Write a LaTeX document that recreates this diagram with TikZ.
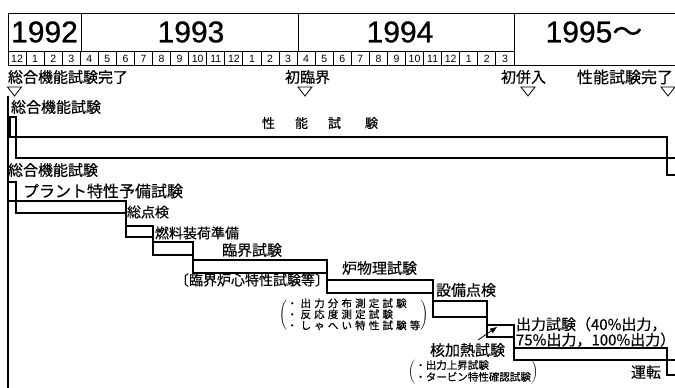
\documentclass[tikz,border=0pt]{standalone}
\usepackage{fontspec}
\usepackage{graphicx}
\setmainfont{Liberation Sans}
\newfontfamily\yrf[FakeBold=0.8]{Liberation Sans}
\newfontfamily\jpf[FakeBold=0.3]{Noto Sans CJK JP}
\newfontfamily\jpls[LetterSpace=30,FakeBold=0.3]{Noto Sans CJK JP}
\usetikzlibrary{arrows.meta}
\begin{document}
\begin{tikzpicture}[x=1pt,y=-1pt,
  every node/.style={inner sep=0pt, outer sep=0pt},
  hdr/.style={line width=0.9pt},
  year/.style={font=\yrf\fontsize{30}{30}\selectfont},
  mon/.style={font=\fontsize{10.5}{10.5}\selectfont},
  jl/.style={font=\jpf\fontsize{15}{15}\selectfont, anchor=west},
  jm/.style={font=\jpf\fontsize{14}{14}\selectfont, anchor=west},
  tri/.style={line width=0.8pt},
  gbar/.style={draw, line width=1.3pt, anchor=north west},
  conn/.style={line width=1.3pt},
  arr/.style={line width=0.8pt, -{Triangle[length=7pt,width=5pt]}}
]
\useasboundingbox (0,0) rectangle (675,388);
\fill[white] (0,0) rectangle (675,388);
% ---------- header ----------
\draw[hdr] (8,13) -- (680,13);
\draw[hdr] (8,65) -- (680,65);
\draw[hdr] (8,51) -- (514,51);
\draw[hdr] (8,13) -- (8,65);
\draw[hdr] (81,13) -- (81,51);
\draw[hdr] (298,13) -- (298,51);
\draw[hdr] (514,13) -- (514,65);
\foreach \i in {1,...,27} \draw[hdr] ({8+18.07*\i},51) -- ({8+18.07*\i},65);
\node[year] (y92) at (44.5,32) {1992};
\node[year] (y93) at (191,32) {1993};
\node[year] (y94) at (400,32) {1994};
\node[year] (y95) at (594,32) {1995\jpf ～};
\foreach \m [count=\i from 0] in {12,1,2,3,4,5,6,7,8,9,10,11,12,1,2,3,4,5,6,7,8,9,10,11,12,1,2,3}
  \node[mon] (m\i) at ({8+18.07*(\i+0.5)},58.5) {\m};
% ---------- milestones ----------
\node[jl] (ms1) at (8,77) {総合機能試験完了};
\node[jl] (ms2) at (285,77) {初臨界};
\node[jl] (ms3) at (501,77) {初併入};
\node[jl, font=\jpf\fontsize{16}{16}\selectfont] (ms4) at (577,77) {性能試験完了};
\draw[tri] (7.5,87) -- (21.5,87) -- (14.5,96) -- cycle;
\draw[tri] (298,87) -- (312,87) -- (305,96) -- cycle;
\draw[tri] (521,87) -- (535,87) -- (528,96) -- cycle;
\draw[tri] (661,87) -- (675,87) -- (668,96) -- cycle;
\draw[conn] (8,96) -- (8,390);
% ---------- section 1 ----------
\node[jl] (s1a) at (11,107) {総合機能試験};
\node[font=\jpf\fontsize{13}{13}\selectfont, anchor=west] (s1b) at (262,123) {性\hspace{20pt}能\hspace{20pt}試\hspace{24pt}験};
\node[gbar, minimum width=6pt, minimum height=20pt] (P0) at (10,117) {};
\node[gbar, minimum width=651pt, minimum height=21pt] (P1) at (16,137) {};
\node[gbar, minimum width=20pt, minimum height=17pt] (P2) at (667,158) {};
% ---------- section 2 ----------
\node[jl] (t0) at (8,170) {総合機能試験};
\node[gbar, minimum width=8pt, minimum height=19pt] (S0) at (8,182) {};
\node[gbar, minimum width=110pt, minimum height=12pt] (A) at (16,201) {};
\node[gbar, minimum width=27pt, minimum height=11pt] (B) at (126,226) {};
\node[gbar, minimum width=40pt, minimum height=13pt] (C) at (153,242) {};
\node[gbar, minimum width=134pt, minimum height=13pt] (D) at (193,260) {};
\node[gbar, minimum width=106pt, minimum height=13pt] (E) at (327,280) {};
\node[gbar, minimum width=54pt, minimum height=16pt] (F) at (433,301) {};
\node[gbar, minimum width=27pt, minimum height=12pt] (G) at (487,325) {};
\node[gbar, minimum width=153pt, minimum height=12pt] (H) at (514,348) {};
\node[gbar, minimum width=25pt, minimum height=15pt] (I) at (667,360) {};
\draw[conn] (A.south east) -- (B.north west);
\draw[conn] (B.south east) -- (C.north west);
\draw[conn] (C.south east) -- (D.north west);
\draw[conn] (D.south east) -- (E.north west);
\draw[conn] (E.south east) -- (F.north west);
\draw[conn] (F.south east) -- (G.north west);
\draw[conn] (G.south east) -- (H.north west);
\draw[conn] (H.south east) -- (I.north west);
\node[jl, font=\jpf\fontsize{16}{16}\selectfont] (tA) at (23,191) {プラント特性予備試験};
\node[jm] (tB) at (127,212) {総点検};
\node[jm] (tC) at (155,233) {燃料装荷準備};
\node[jl] (tD) at (222,250) {臨界試験};
\node[jm] (tD2) at (175,280) {〔臨界炉心特性試験等〕};
\node[jl] (tE) at (342,268) {炉物理試験};
\node[anchor=west, font=\jpls\fontsize{10.5}{10.5}\selectfont] (tE2) at (279,315)
  {$\left(\renewcommand{\arraystretch}{0.7}\begin{tabular}{@{}l@{}}・出力分布測定試験\\・反応度測定試験\\・しゃへい特性試験等\end{tabular}\right)$};
\node[jl] (tF) at (436,290) {設備点検};
\node[jl] (tG) at (430,350) {核加熱試験};
\node[anchor=west, font=\jpf\fontsize{10.5}{11}\selectfont] (tG2) at (408,372)
  {$\left(\renewcommand{\arraystretch}{0.9}\begin{tabular}{@{}l@{}}・出力上昇試験\\・タービン特性確認試験\end{tabular}\right)$};
\node[jl, align=left, font=\jpf\fontsize{15}{12}\selectfont] (tH) at (516,332) {出力試験（40\%出力，\\75\%出力，100\%出力）};
\node[jl, anchor=east] (tI) at (661,372) {運転};
\coordinate (atail) at (478,340);
\coordinate (ahead) at (497,327);
\draw[arr] (atail) -- (ahead);
\end{tikzpicture}
\end{document}
